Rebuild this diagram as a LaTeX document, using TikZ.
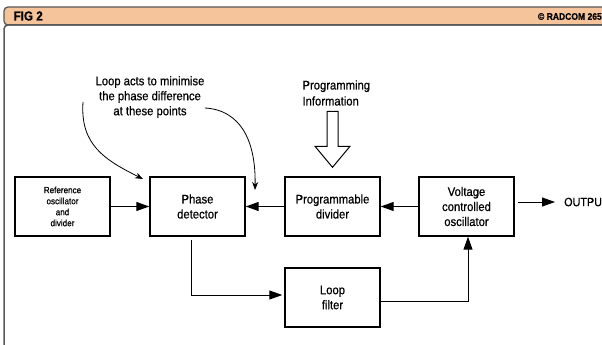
\documentclass[tikz,border=0pt]{standalone}
\usepackage{fontspec}
\setmainfont{Liberation Sans}[FakeStretch=0.9, FakeBold=0.6]
\usetikzlibrary{arrows.meta, positioning}

\definecolor{bandorange}{HTML}{F5C49B}
\definecolor{framegrey}{HTML}{58595B}

\begin{document}
\begin{tikzpicture}[
        x=1pt, y=-1pt,
        >={Triangle[length=13pt, width=9pt]},
        block/.style={draw, line width=1.4pt, minimum width=95pt, minimum height=59pt,
            inner sep=0pt, align=center, font=\fontsize{12.5}{15}\selectfont},
        small/.style={font=\fontsize{9}{11}\selectfont},
        conn/.style={->, line width=1pt},
        hint/.style={-{Stealth[length=8pt, width=6pt]}, line width=0.8pt},
        hollow/.style={draw, fill=white, line width=1pt, line join=miter}
    ]
        \useasboundingbox (0,0) rectangle (602,345);

        % title band and frame
        \filldraw[fill=bandorange, draw=framegrey, line width=1.3pt, rounded corners=4pt]
            (4,25) -- (4,7) -- (612,7) -- (612,25) -- cycle;
        \draw[framegrey, line width=1.5pt, rounded corners=4pt] (4,350) -- (4,25) -- (612,25);
        \node[anchor=west, font=\bfseries\fontsize{13}{15}\selectfont] (fig) at (10,16) {FIG 2};
        \node[anchor=east, inner sep=0pt, font=\bfseries\fontsize{9.5}{11}\selectfont] (src) at (602,16.5) {\textcopyright{} RADCOM 265};

        % blocks
        \node[block, small] (ref) at (62.5,206.5) {Reference\\oscillator\\and\\divider};
        \node[block] (pd)  at (197.5,206.5) {Phase\\detector};
        \node[block] (prd) at (332.5,206.5) {Programmable\\divider};
        \node[block] (vco) at (466.5,206.5) {Voltage\\controlled\\oscillator};
        \node[block] (lf)  at (332.5,297.5) {Loop\\filter};
        \node[anchor=west, inner sep=0pt, font=\fontsize{12}{14}\selectfont] (out) at (564,202) {OUTPUT};

        % notes
        \node[align=center, font=\fontsize{12.5}{15}\selectfont] (note) at (150,97)
            {Loop acts to minimise\\the phase difference\\at these points};
        \node[align=left, anchor=west, font=\fontsize{12.5}{16}\selectfont] (prog) at (299,93)
            {Programming\\Information};
        \coordinate (n1) at (83,102);
        \coordinate (n2) at (205,108);
        \coordinate (t1) at (143,179);
        \coordinate (t2) at (255,190);

        % signal path
        \draw[conn] (ref) -- (pd);
        \draw[conn] (prd) -- (pd);
        \draw[conn] (vco) -- (prd);
        \draw[conn, shorten <=3pt, shorten >=9pt] (vco.east |- out) -- (out.west);
        \draw[conn, shorten <=3pt, shorten >=2pt] ([xshift=-6.5pt]pd.south) |- ([yshift=2.5pt]lf.west);
        \draw[conn] ([yshift=-3.5pt]lf.east) -| ([xshift=1.5pt]vco.south);

        % hint arrows
        \draw[hint] (n1) .. controls (80,145) and (105,160) .. (t1);
        \draw[hint] (n2) .. controls (240,110) and (256,140) .. (t2);

        % programming input
        \draw[hollow] ([yshift=9pt]prd.north) -- ++(-17.5,-21) -- ++(12,0) -- ++(0,-35)
            -- ++(11,0) -- ++(0,35) -- ++(12,0) -- cycle;
    \end{tikzpicture}
\end{document}
